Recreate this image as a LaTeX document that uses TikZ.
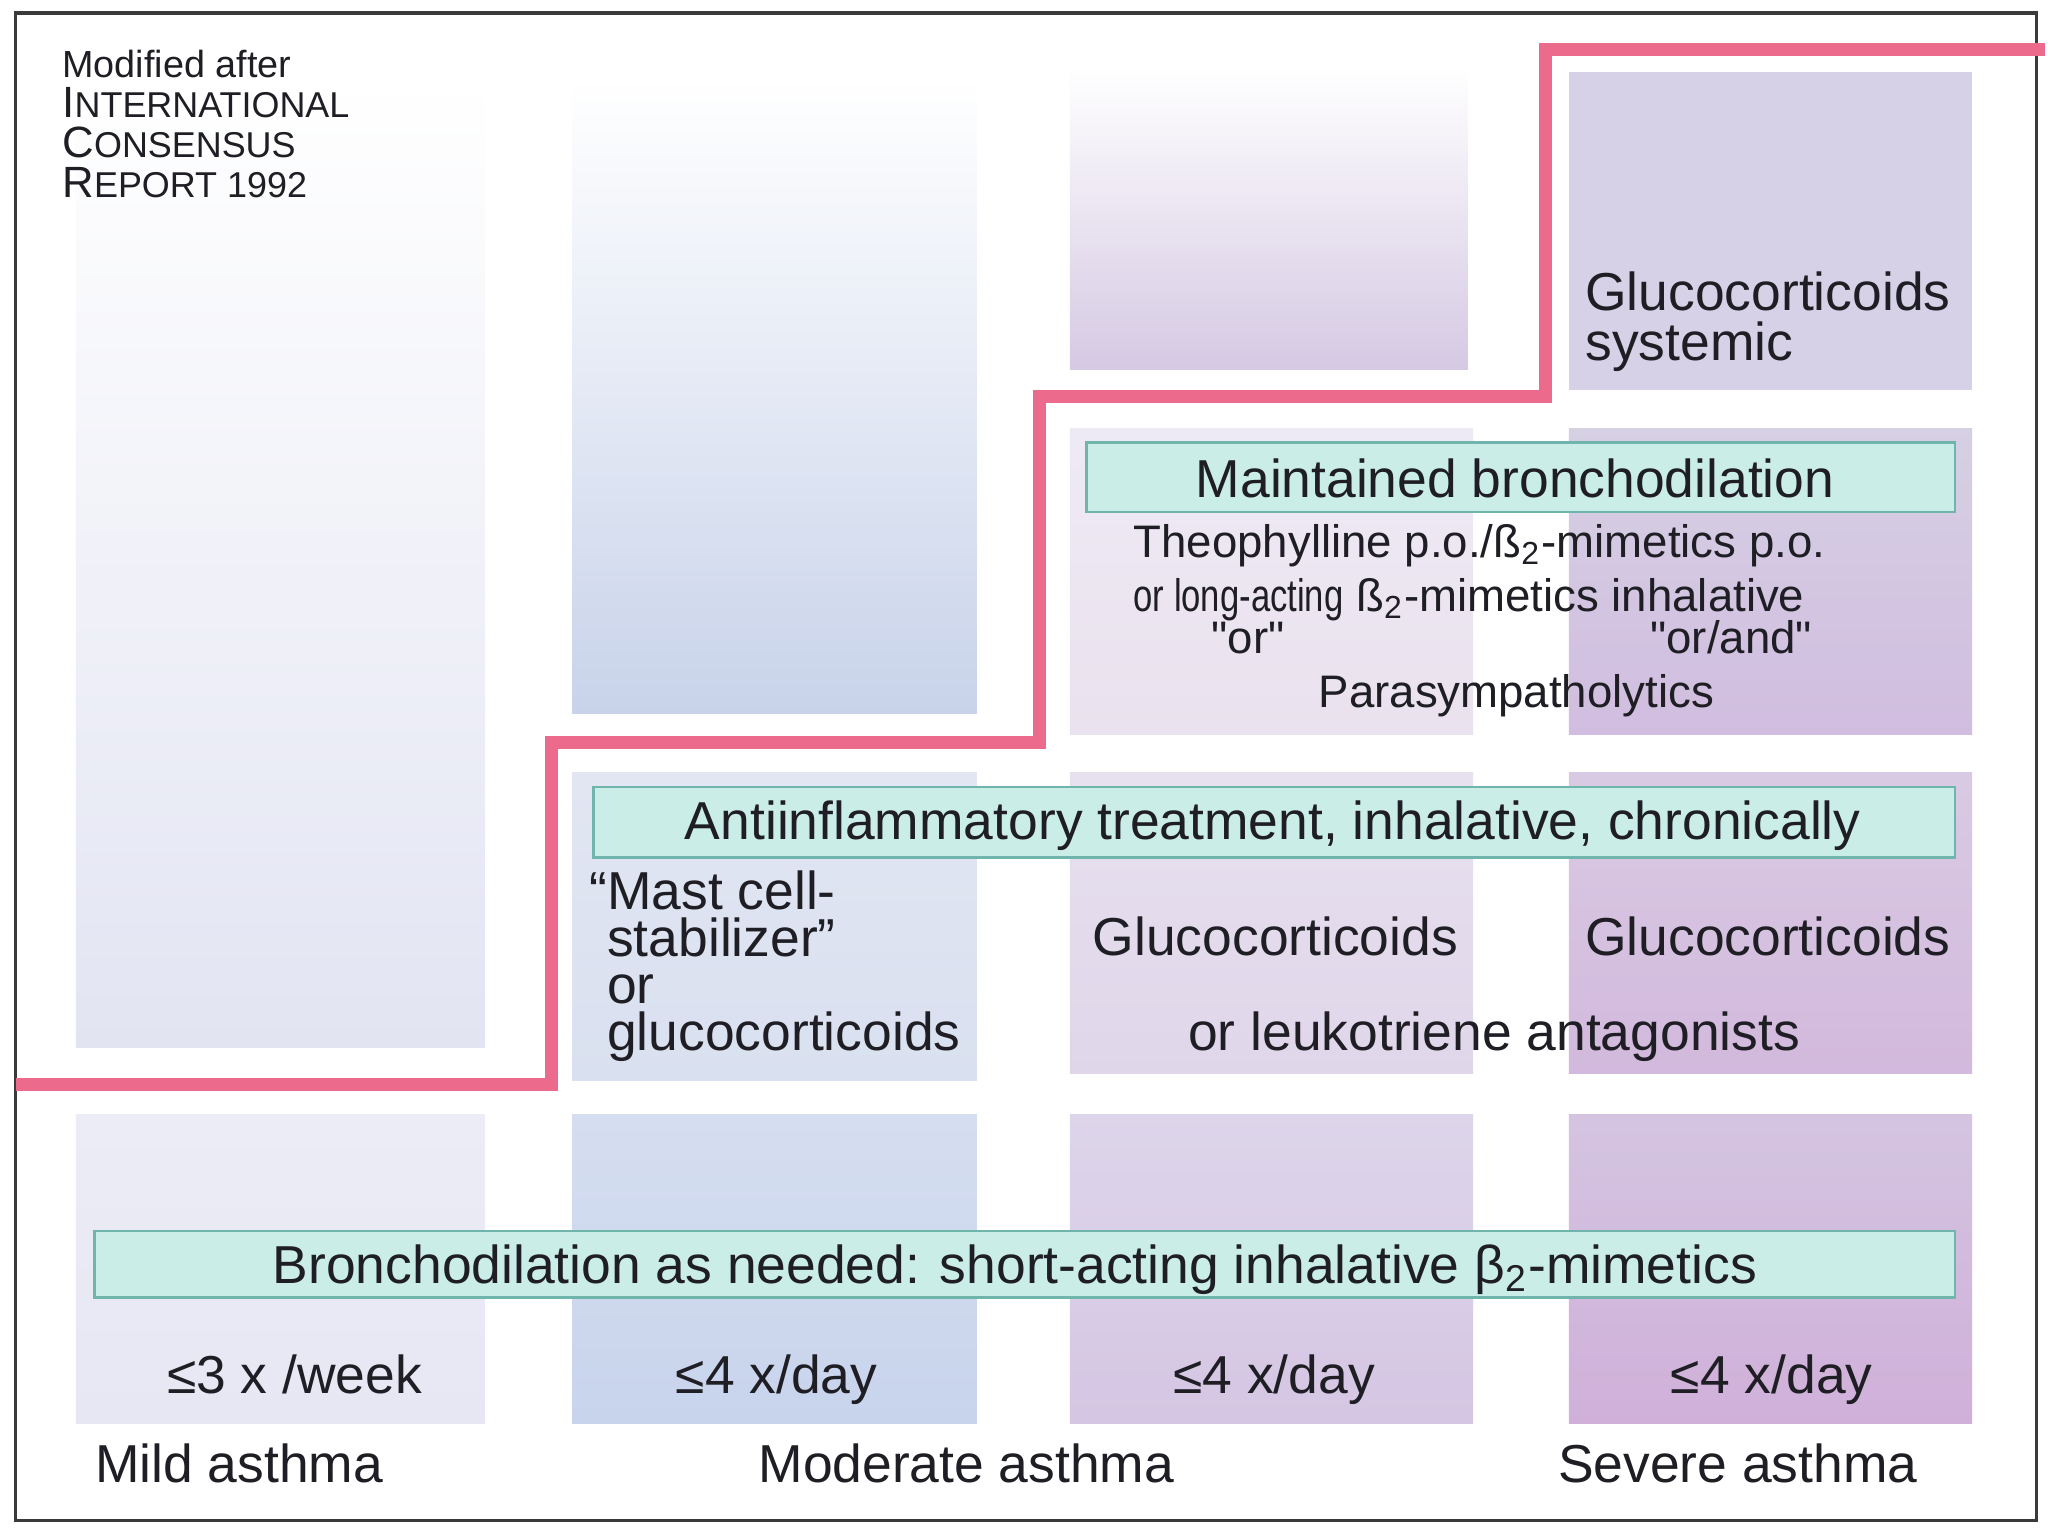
\documentclass[tikz,border=0pt]{standalone}
\usepackage{fontspec}
\setmainfont{Liberation Sans}
\definecolor{txtc}{HTML}{1E1E24}
\definecolor{framec}{HTML}{3A3A3A}
\definecolor{pinkc}{HTML}{EC6A8C}
\definecolor{barfill}{HTML}{CAEDE8}
\definecolor{barline}{HTML}{6FB5AC}
\definecolor{aA}{HTML}{E2E4F2}
\definecolor{bA}{HTML}{C8D3EA}
\definecolor{cAm}{HTML}{EDE3F1}
\definecolor{cA}{HTML}{D5C9E3}
\definecolor{dA}{HTML}{D6D1E6}
\definecolor{cBt}{HTML}{EEEAF5}
\definecolor{cBb}{HTML}{EAE2EE}
\definecolor{dBt}{HTML}{D6D0E3}
\definecolor{dBb}{HTML}{D1BDE0}
\definecolor{bCt}{HTML}{E2E6F3}
\definecolor{bCb}{HTML}{D9E0EF}
\definecolor{cCt}{HTML}{E7E1EF}
\definecolor{cCb}{HTML}{E0D6EA}
\definecolor{dCt}{HTML}{D9CAE3}
\definecolor{dCb}{HTML}{D2B9DD}
\definecolor{aDt}{HTML}{ECECF6}
\definecolor{aDb}{HTML}{E6E7F3}
\definecolor{bDt}{HTML}{D5DEF0}
\definecolor{bDb}{HTML}{C8D4EC}
\definecolor{cDt}{HTML}{DDD5EA}
\definecolor{cDb}{HTML}{D5C6E3}
\definecolor{dDt}{HTML}{D4C4E1}
\definecolor{dDb}{HTML}{D0B0D9}
\begin{document}
\begin{tikzpicture}[x=0.01cm,y=-0.01cm,
  txt/.style={text=txtc, inner sep=0pt, font=\fontsize{11.6}{14}\selectfont},
  smalltxt/.style={text=txtc, inner sep=0pt, font=\fontsize{9.9}{12}\selectfont},
  hdr/.style={text=txtc, inner sep=0pt, font=\fontsize{8.2}{10}\selectfont},
  hdrbig/.style={text=txtc, inner sep=0pt, font=\fontsize{9.5}{10}\selectfont},
  bar/.style={fill=barfill, draw=barline, line width=0.6pt},
  redline/.style={draw=pinkc, line width=2.8pt}]
\newcommand{\smc}[1]{{\fontsize{7.8}{8}\selectfont #1}}
\useasboundingbox (0,0) rectangle (1564,1173);
\fill[white] (0,0) rectangle (1564,1173);
% ---- column boxes, top row
\shade[top color=white, bottom color=aA] (58,60) rectangle (370,800);
\shade[top color=white, bottom color=bA] (437,60) rectangle (746,545);
\shade[top color=white, middle color=cAm, bottom color=cA] (817,50) rectangle (1121,282);
\fill[dA] (1198,55) rectangle (1506,298);
% ---- middle row
\shade[top color=cBt, bottom color=cBb] (817,327) rectangle (1125,561);
\shade[top color=dBt, bottom color=dBb] (1198,327) rectangle (1506,561);
% ---- third row
\shade[top color=bCt, bottom color=bCb] (437,590) rectangle (746,825);
\shade[top color=cCt, bottom color=cCb] (817,590) rectangle (1125,820);
\shade[top color=dCt, bottom color=dCb] (1198,590) rectangle (1506,820);
% ---- bottom row
\shade[top color=aDt, bottom color=aDb] (58,851) rectangle (370,1087);
\shade[top color=bDt, bottom color=bDb] (437,851) rectangle (746,1087);
\shade[top color=cDt, bottom color=cDb] (817,851) rectangle (1125,1087);
\shade[top color=dDt, bottom color=dDb] (1198,851) rectangle (1506,1087);
% ---- teal bars
\draw[bar] (830,338) rectangle (1493,391);
\draw[bar] (453,601) rectangle (1493,655);
\draw[bar] (72,940) rectangle (1493,991);
% ---- frame and step line
\draw[framec, line width=0.75pt] (12,10) rectangle (1555,1161);
\draw[redline] (12,828) -- (421,828) -- (421,567) -- (794,567) -- (794,303) -- (1180,303) -- (1180,38) -- (1562,38);
% ---- header
\node[hdr, anchor=base west] (h1) at (47,59) {Modified after};
\node[hdrbig, anchor=base west] (h2) at (47,90) {I\smc{NTERNATIONAL}};
\node[hdrbig, anchor=base west] (h3) at (47,120) {C\smc{ONSENSUS}};
\node[hdrbig, anchor=base west] (h4) at (47,151) {R\smc{EPORT 1992}};
% ---- texts
\node[txt, anchor=base west] (gs1) at (1210,237) {Glucocorticoids};
\node[txt, anchor=base west] (gs2) at (1210,275) {systemic};
\node[txt, anchor=base] (maint) at (1157,380) {Maintained bronchodilation};
\node[smalltxt, anchor=base west] (theo) at (865,426) {Theophylline p.o./ß\textsubscript{2}-mimetics p.o.};
\node[smalltxt, anchor=base west] (long) at (865,467) {\scalebox{0.76}[1]{or long-acting} ß\textsubscript{2}-mimetics inhalative};
\node[smalltxt, anchor=base] (or1) at (953,499) {\textquotedbl or\textquotedbl};
\node[smalltxt, anchor=base] (or2) at (1322,499) {\textquotedbl or/and\textquotedbl};
\node[smalltxt, anchor=base] (para) at (1158,540) {Parasympatholytics};
\node[txt, anchor=base] (anti) at (972,641) {Antiinflammatory treatment, inhalative, chronically};
\node[txt, anchor=base west, align=left, font=\fontsize{11.6}{10.2}\selectfont] (mast) at (463,802)
  {\llap{“}Mast cell-\\stabilizer”\\or\\glucocorticoids};
\node[txt, anchor=base] (g3) at (974,730) {Glucocorticoids};
\node[txt, anchor=base] (g4) at (1350,730) {Glucocorticoids};
\node[txt, anchor=base] (leuk) at (1141,802) {or leukotriene antagonists};
\node[txt, anchor=base] (bron) at (775,980) {Bronchodilation as needed: short-acting inhalative β\textsubscript{2}-mimetics};
\node[txt, anchor=base] (f1) at (225,1064) {≤3 x /week};
\node[txt, anchor=base] (f2) at (593,1064) {≤4 x/day};
\node[txt, anchor=base] (f3) at (973,1064) {≤4 x/day};
\node[txt, anchor=base] (f4) at (1353,1064) {≤4 x/day};
\node[txt, anchor=base west] (mild) at (72,1132) {Mild asthma};
\node[txt, anchor=base] (mod) at (738,1132) {Moderate asthma};
\node[txt, anchor=base] (sev) at (1327,1132) {Severe asthma};
\end{tikzpicture}
\end{document}
